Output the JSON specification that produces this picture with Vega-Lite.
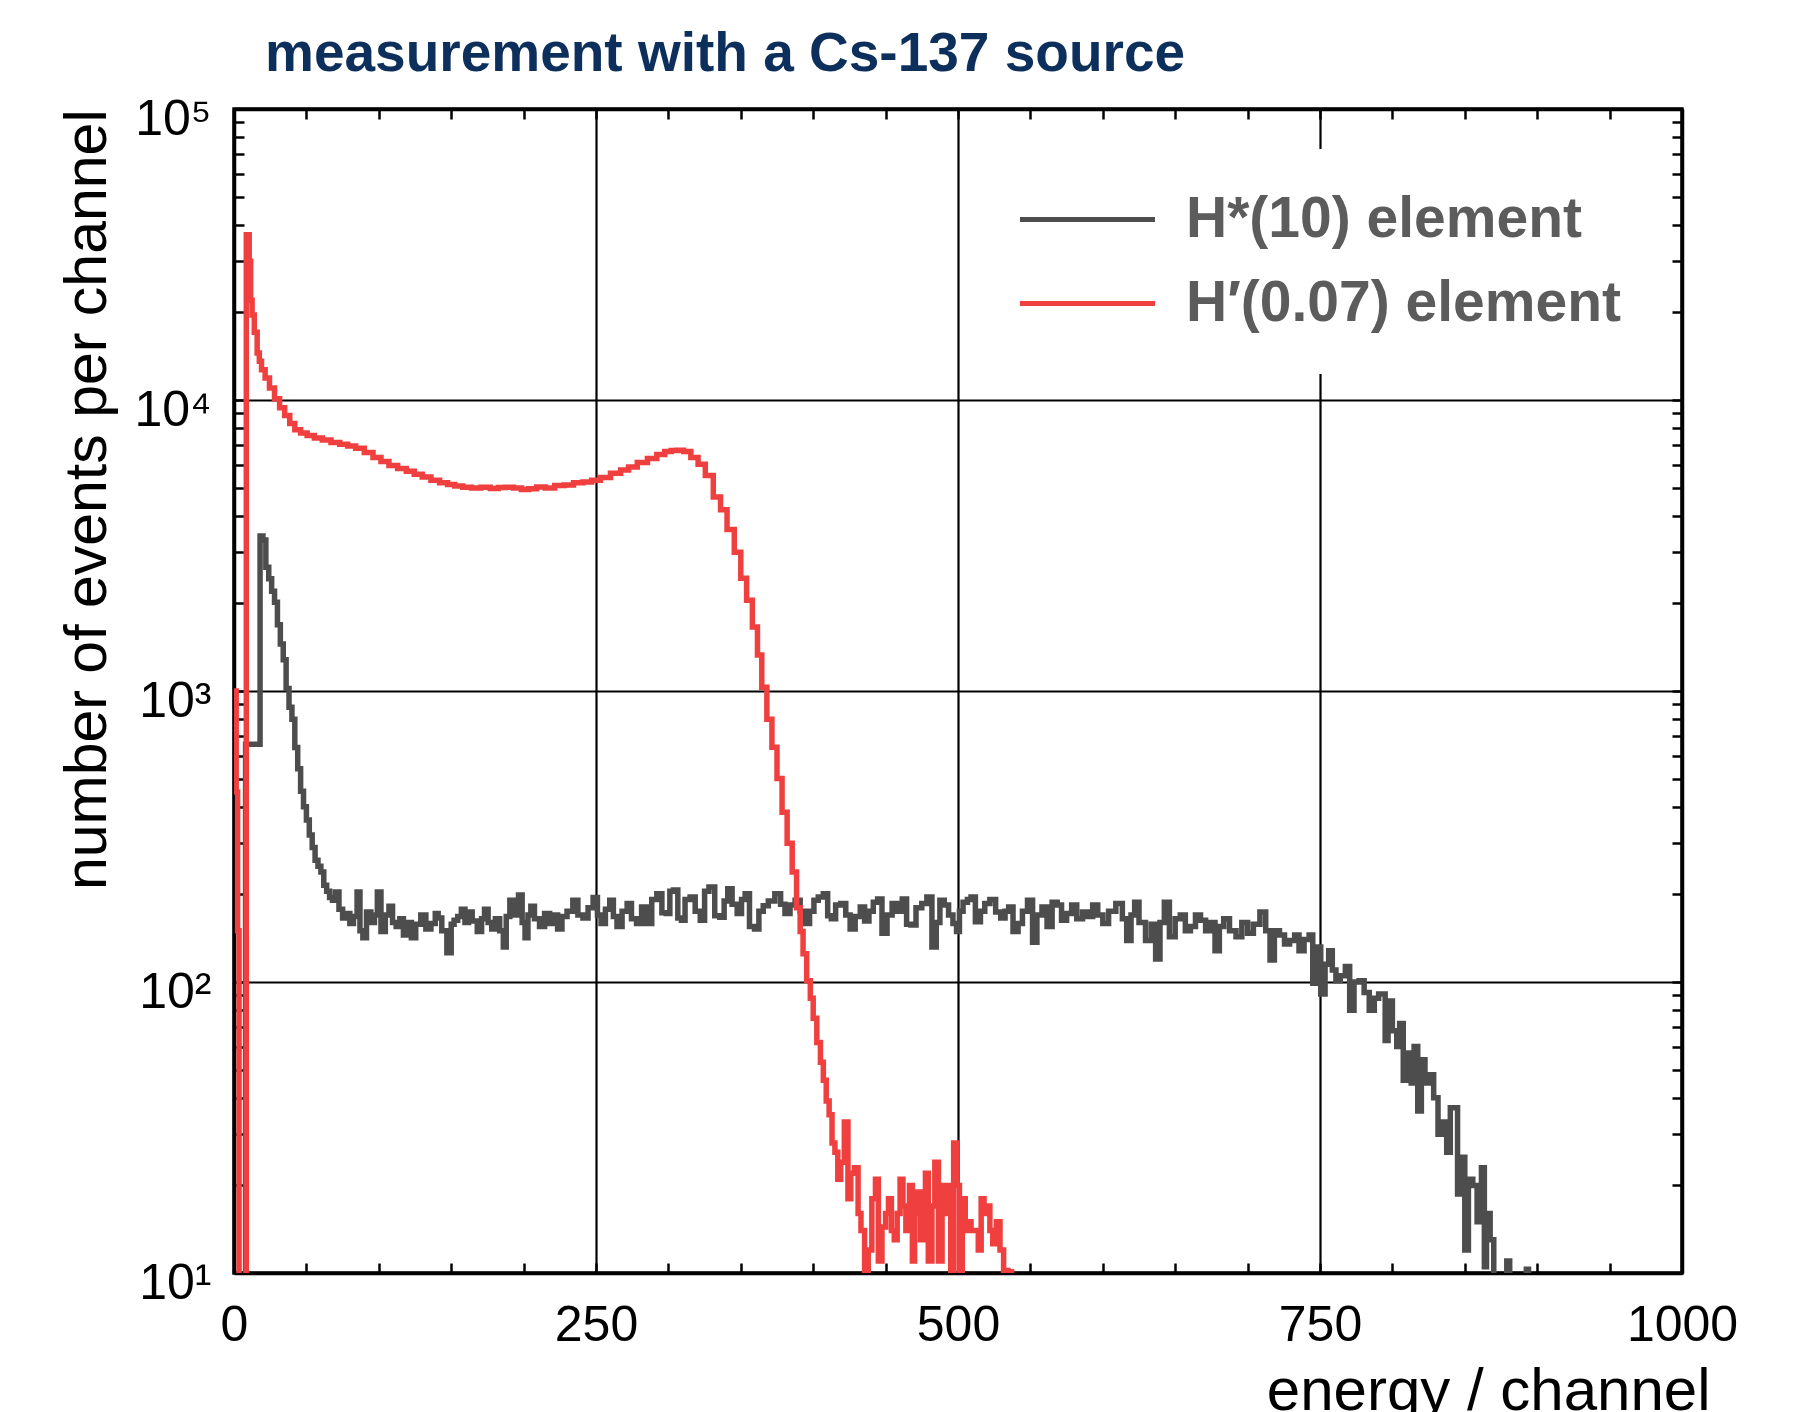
{
  "$schema": "https://vega.github.io/schema/vega-lite/v6.json",
  "width": 1448,
  "height": 1164,
  "autosize": {"type": "none"},
  "padding": {"left": 234, "top": 109, "right": 111, "bottom": 139},
  "background": "white",
  "config": {"font": "Liberation Sans", "view": {"stroke": "black", "strokeWidth": 3.5}},
  "title": {"text": "measurement with a Cs-137 source", "anchor": "start", "frame": "group", "dx": 31, "dy": 69, "offset": 37, "baseline": "alphabetic", "fontSize": 55, "font": "Liberation Sans", "fontWeight": "bold", "color": "#0d2f5c"},
  "datasets": {
    "gray": [
      {"c":0,"n":3},{"c":7,"n":3},{"c":9,"n":656},{"c":17,"n":656},{"c":19,"n":3410},{"c":21,"n":3300},{"c":23,"n":2660},{"c":25,"n":2430},{"c":27,"n":2200},{"c":29,"n":2020},{"c":31,"n":1690},{"c":33,"n":1450},{"c":35,"n":1280},{"c":37,"n":1020},{"c":39,"n":880},{"c":41,"n":800},{"c":43,"n":640},{"c":45,"n":540},{"c":47,"n":452},{"c":49,"n":400},{"c":51,"n":360},{"c":53,"n":320},{"c":55,"n":290},{"c":57,"n":262},{"c":59,"n":250},{"c":61,"n":239},{"c":63,"n":215},{"c":65,"n":205},{"c":67,"n":195},{"c":69,"n":191},{"c":71,"n":204},{"c":74,"n":178},{"c":76,"n":166},{"c":79,"n":172},{"c":81,"n":159},{"c":84,"n":168},{"c":86,"n":204},{"c":88,"n":150},{"c":90,"n":142},{"c":93,"n":174},{"c":96,"n":160},{"c":98,"n":170},{"c":100,"n":204},{"c":103,"n":149},{"c":106,"n":170},{"c":108,"n":182},{"c":111,"n":160},{"c":113,"n":155},{"c":116,"n":165},{"c":118,"n":145},{"c":121,"n":160},{"c":124,"n":142},{"c":127,"n":158},{"c":131,"n":170},{"c":134,"n":152},{"c":138,"n":159},{"c":140,"n":172},{"c":142,"n":166},{"c":145,"n":150},{"c":149,"n":126},{"c":151,"n":158},{"c":153,"n":163},{"c":156,"n":168},{"c":158,"n":178},{"c":161,"n":160},{"c":163,"n":174},{"c":166,"n":162},{"c":170,"n":149},{"c":172,"n":165},{"c":174,"n":178},{"c":177,"n":160},{"c":179,"n":152},{"c":182,"n":165},{"c":185,"n":150},{"c":187,"n":132},{"c":189,"n":168},{"c":192,"n":191},{"c":195,"n":170},{"c":198,"n":199},{"c":200,"n":160},{"c":202,"n":142},{"c":204,"n":170},{"c":206,"n":182},{"c":209,"n":165},{"c":213,"n":155},{"c":216,"n":172},{"c":220,"n":159},{"c":222,"n":170},{"c":225,"n":152},{"c":228,"n":168},{"c":232,"n":175},{"c":236,"n":191},{"c":239,"n":170},{"c":243,"n":166},{"c":246,"n":180},{"c":250,"n":195},{"c":252,"n":170},{"c":255,"n":159},{"c":258,"n":178},{"c":261,"n":191},{"c":263,"n":168},{"c":266,"n":155},{"c":270,"n":175},{"c":273,"n":186},{"c":276,"n":165},{"c":280,"n":159},{"c":283,"n":181},{"c":287,"n":159},{"c":290,"n":192},{"c":294,"n":201},{"c":297,"n":173},{"c":300,"n":172},{"c":302,"n":205},{"c":305,"n":207},{"c":308,"n":166},{"c":310,"n":163},{"c":313,"n":192},{"c":317,"n":196},{"c":320,"n":175},{"c":324,"n":163},{"c":326,"n":205},{"c":330,"n":212},{"c":334,"n":169},{"c":337,"n":167},{"c":340,"n":190},{"c":342,"n":209},{"c":346,"n":185},{"c":349,"n":172},{"c":352,"n":192},{"c":354,"n":201},{"c":358,"n":155},{"c":361,"n":152},{"c":364,"n":175},{"c":367,"n":183},{"c":371,"n":190},{"c":376,"n":201},{"c":379,"n":185},{"c":382,"n":172},{"c":386,"n":184},{"c":389,"n":191},{"c":393,"n":175},{"c":396,"n":159},{"c":399,"n":175},{"c":402,"n":191},{"c":405,"n":196},{"c":409,"n":201},{"c":411,"n":169},{"c":414,"n":165},{"c":417,"n":184},{"c":421,"n":186},{"c":424,"n":170},{"c":427,"n":152},{"c":431,"n":168},{"c":434,"n":181},{"c":437,"n":162},{"c":440,"n":175},{"c":443,"n":188},{"c":446,"n":193},{"c":449,"n":147},{"c":453,"n":170},{"c":456,"n":186},{"c":460,"n":175},{"c":463,"n":193},{"c":466,"n":158},{"c":469,"n":157},{"c":473,"n":180},{"c":477,"n":186},{"c":480,"n":196},{"c":484,"n":132},{"c":486,"n":160},{"c":489,"n":191},{"c":492,"n":184},{"c":495,"n":170},{"c":498,"n":159},{"c":500,"n":149},{"c":502,"n":175},{"c":505,"n":188},{"c":508,"n":192},{"c":510,"n":196},{"c":514,"n":161},{"c":517,"n":175},{"c":520,"n":186},{"c":524,"n":192},{"c":528,"n":174},{"c":531,"n":166},{"c":534,"n":175},{"c":536,"n":181},{"c":540,"n":149},{"c":543,"n":159},{"c":546,"n":175},{"c":550,"n":191},{"c":553,"n":137},{"c":556,"n":170},{"c":560,"n":181},{"c":563,"n":155},{"c":567,"n":188},{"c":570,"n":184},{"c":573,"n":163},{"c":577,"n":172},{"c":580,"n":184},{"c":584,"n":165},{"c":588,"n":174},{"c":591,"n":168},{"c":595,"n":184},{"c":598,"n":170},{"c":602,"n":159},{"c":606,"n":175},{"c":612,"n":186},{"c":615,"n":165},{"c":618,"n":139},{"c":621,"n":170},{"c":623,"n":188},{"c":627,"n":160},{"c":632,"n":139},{"c":635,"n":158},{"c":638,"n":120},{"c":641,"n":160},{"c":644,"n":188},{"c":648,"n":143},{"c":652,"n":165},{"c":655,"n":170},{"c":659,"n":150},{"c":662,"n":155},{"c":666,"n":170},{"c":669,"n":163},{"c":673,"n":150},{"c":676,"n":160},{"c":679,"n":128},{"c":682,"n":155},{"c":685,"n":165},{"c":690,"n":150},{"c":694,"n":143},{"c":698,"n":160},{"c":702,"n":147},{"c":706,"n":158},{"c":711,"n":174},{"c":714,"n":150},{"c":717,"n":119},{"c":720,"n":150},{"c":724,"n":145},{"c":727,"n":135},{"c":731,"n":139},{"c":734,"n":145},{"c":737,"n":128},{"c":741,"n":140},{"c":744,"n":145},{"c":746,"n":99},{"c":749,"n":132},{"c":752,"n":91},{"c":755,"n":115},{"c":757,"n":128},{"c":760,"n":110},{"c":762,"n":101},{"c":766,"n":105},{"c":769,"n":113},{"c":772,"n":80},{"c":775,"n":100},{"c":779,"n":101},{"c":782,"n":92},{"c":786,"n":80},{"c":789,"n":88},{"c":792,"n":91},{"c":794,"n":91},{"c":796,"n":63},{"c":798,"n":86},{"c":802,"n":68},{"c":804,"n":60},{"c":806,"n":72},{"c":809,"n":46},{"c":812,"n":57},{"c":814,"n":45},{"c":816,"n":60},{"c":819,"n":36},{"c":821,"n":54},{"c":824,"n":45},{"c":827,"n":48},{"c":830,"n":40},{"c":833,"n":30},{"c":836,"n":33},{"c":839,"n":26},{"c":841,"n":37},{"c":844,"n":37},{"c":846,"n":18.7},{"c":849,"n":25},{"c":851,"n":12},{"c":854,"n":21},{"c":857,"n":20},{"c":860,"n":15},{"c":863,"n":23},{"c":864,"n":10.5},{"c":866,"n":16},{"c":869,"n":13},{"c":871,"n":5},{"c":878,"n":5},{"c":880,"n":11},{"c":882,"n":5},{"c":892,"n":5},{"c":893,"n":10.3},{"c":895,"n":5},{"c":1000,"n":5}
    ],
    "red": [
      {"c":0,"n":1000},{"c":1,"n":1000},{"c":2,"n":450},{"c":3,"n":150},{"c":4,"n":3},{"c":8,"n":3},{"c":9,"n":37000},{"c":10,"n":37000},{"c":11,"n":30000},{"c":12,"n":22000},{"c":13,"n":19600},{"c":15,"n":17100},{"c":17,"n":14500},{"c":18,"n":13600},{"c":20,"n":12700},{"c":23,"n":11900},{"c":26,"n":11000},{"c":30,"n":10100},{"c":33,"n":9400},{"c":37,"n":8850},{"c":40,"n":8300},{"c":44,"n":7900},{"c":48,"n":7700},{"c":53,"n":7550},{"c":58,"n":7400},{"c":64,"n":7280},{"c":70,"n":7150},{"c":76,"n":7050},{"c":81,"n":6950},{"c":87,"n":6830},{"c":93,"n":6600},{"c":99,"n":6350},{"c":104,"n":6150},{"c":110,"n":5960},{"c":116,"n":5820},{"c":122,"n":5690},{"c":127,"n":5560},{"c":133,"n":5440},{"c":139,"n":5300},{"c":145,"n":5200},{"c":150,"n":5120},{"c":155,"n":5060},{"c":161,"n":5010},{"c":167,"n":4980},{"c":174,"n":5010},{"c":180,"n":4960},{"c":185,"n":5000},{"c":190,"n":5010},{"c":196,"n":4980},{"c":201,"n":4930},{"c":206,"n":4950},{"c":212,"n":5020},{"c":218,"n":4980},{"c":225,"n":5080},{"c":231,"n":5100},{"c":238,"n":5200},{"c":244,"n":5230},{"c":250,"n":5300},{"c":256,"n":5420},{"c":264,"n":5600},{"c":270,"n":5750},{"c":275,"n":5880},{"c":282,"n":6100},{"c":289,"n":6300},{"c":295,"n":6500},{"c":300,"n":6650},{"c":304,"n":6700},{"c":308,"n":6720},{"c":313,"n":6650},{"c":318,"n":6350},{"c":323,"n":6010},{"c":328,"n":5500},{"c":334,"n":4640},{"c":338,"n":4200},{"c":343,"n":3590},{"c":348,"n":3000},{"c":352,"n":2440},{"c":356,"n":2050},{"c":360,"n":1660},{"c":363,"n":1330},{"c":366,"n":1030},{"c":370,"n":800},{"c":373,"n":641},{"c":377,"n":500},{"c":380,"n":383},{"c":384,"n":300},{"c":387,"n":239},{"c":390,"n":180},{"c":392,"n":149},{"c":394,"n":125},{"c":397,"n":101},{"c":399,"n":88},{"c":401,"n":75},{"c":404,"n":62},{"c":406,"n":53},{"c":408,"n":46},{"c":410,"n":39},{"c":412,"n":35},{"c":414,"n":28},{"c":416,"n":26},{"c":418,"n":21},{"c":420,"n":24},{"c":423,"n":33},{"c":425,"n":18},{"c":427,"n":22},{"c":430,"n":23},{"c":432,"n":16},{"c":434,"n":14},{"c":437,"n":8},{"c":439,"n":12},{"c":442,"n":18},{"c":444,"n":21},{"c":446,"n":11},{"c":449,"n":14.4},{"c":451,"n":16},{"c":453,"n":18},{"c":455,"n":14},{"c":457,"n":13},{"c":459,"n":16},{"c":461,"n":21},{"c":463,"n":17},{"c":465,"n":14},{"c":468,"n":20},{"c":469,"n":11},{"c":471,"n":16},{"c":473,"n":19},{"c":475,"n":13},{"c":477,"n":17},{"c":478,"n":22},{"c":481,"n":11},{"c":483,"n":17},{"c":485,"n":24},{"c":488,"n":11},{"c":490,"n":20},{"c":492,"n":16},{"c":494,"n":20},{"c":496,"n":9},{"c":498,"n":28},{"c":500,"n":20},{"c":502,"n":8},{"c":504,"n":18},{"c":506,"n":14},{"c":508,"n":15},{"c":510,"n":14},{"c":513,"n":14},{"c":515,"n":12},{"c":517,"n":18},{"c":519,"n":16},{"c":521,"n":17},{"c":523,"n":14},{"c":525,"n":12.6},{"c":528,"n":15},{"c":530,"n":12},{"c":533,"n":10.2},{"c":536,"n":10.1},{"c":538,"n":5},{"c":1000,"n":5}
    ]
  },
  "layer": [
    {
      "data": {"name": "gray"},
      "mark": {"type": "line", "interpolate": "step", "strokeWidth": 5.5, "clip": true},
      "encoding": {
        "x": {"field": "c", "type": "quantitative", "scale": {"domain": [0, 1000], "nice": false, "zero": false},
          "axis": {"orient": "bottom", "values": [0,50,100,150,200,250,300,350,400,450,500,550,600,650,700,750,800,850,900,950,1000],
            "labelExpr": "datum.value % 250 == 0 ? '' + datum.value : ''",
            "labelFontSize": 50, "labelFont": "Liberation Sans", "labelColor": "black", "labelPadding": 37, "labelFlush": false, "labelOverlap": false, "labelBound": false,
            "tickSize": -10, "tickWidth": 2.5, "tickColor": "black", "domainColor": "black", "domainWidth": 3.5,
            "grid": true, "gridColor": "black", "gridWidth": 2.2,
            "gridOpacity": {"condition": {"test": "datum.value == 250 || datum.value == 500 || datum.value == 750", "value": 1}, "value": 0},
            "title": "energy / channel", "titleFont": "Liberation Sans", "titleFontSize": 60, "titleFontWeight": "normal", "titleColor": "black",
            "titleX": 1476, "titleY": 136, "titleAlign": "right", "titleBaseline": "alphabetic"}},
        "y": {"field": "n", "type": "quantitative", "scale": {"type": "log", "domain": [10, 100000], "nice": false},
          "axis": {"orient": "left", "values": [10,20,30,40,50,60,70,80,90,100,200,300,400,500,600,700,800,900,1000,2000,3000,4000,5000,6000,7000,8000,9000,10000,20000,30000,40000,50000,60000,70000,80000,90000,100000],
            "labelExpr": "datum.value == 10 ? '10¹' : datum.value == 100 ? '10²' : datum.value == 1000 ? '10³' : datum.value == 10000 ? '10⁴' : datum.value == 100000 ? '10⁵' : ''",
            "labelFontSize": 50, "labelFont": "Liberation Sans", "labelColor": "black", "labelPadding": 33, "labelOffset": 10, "labelFlush": false, "labelOverlap": false, "labelBound": false,
            "tickSize": -10, "tickWidth": 2.5, "tickColor": "black", "domainColor": "black", "domainWidth": 3.5,
            "grid": true, "gridColor": "black", "gridWidth": 2.2,
            "gridOpacity": {"condition": {"test": "datum.value == 100 || datum.value == 1000 || datum.value == 10000", "value": 1}, "value": 0},
            "title": "number of events per channel", "titleFont": "Liberation Sans", "titleFontSize": 59, "titleFontWeight": "normal", "titleColor": "black",
            "titleX": -117, "titleY": 0, "titleAngle": -90, "titleAlign": "right", "titleBaseline": "bottom"}},
        "color": {"datum": "H*(10) element", "type": "nominal",
          "scale": {"domain": ["H*(10) element", "H′(0.07) element"], "range": ["#4d4d4d", "#f03f3f"]},
          "legend": {"orient": "none", "legendX": 783, "legendY": 40, "title": null, "symbolType": "M-4,0H4", "symbolSize": 1139, "symbolStrokeWidth": 5,
            "labelFontSize": 57, "labelFont": "Liberation Sans", "labelFontWeight": "bold", "labelColor": "#5c5c5c", "labelOffset": 70, "labelLimit": 0,
            "rowPadding": 26, "padding": 42, "fillColor": "white"}}
      }
    },
    {
      "data": {"name": "red"},
      "mark": {"type": "line", "interpolate": "step", "strokeWidth": 5.5, "clip": true},
      "encoding": {
        "x": {"field": "c", "type": "quantitative",
          "axis": {"orient": "top", "values": [0,50,100,150,200,250,300,350,400,450,500,550,600,650,700,750,800,850,900,950,1000],
            "labels": false, "title": null, "grid": false, "tickSize": -10, "tickWidth": 2.5, "tickColor": "black", "domainColor": "black", "domainWidth": 3.5}},
        "y": {"field": "n", "type": "quantitative",
          "axis": {"orient": "right", "values": [10,20,30,40,50,60,70,80,90,100,200,300,400,500,600,700,800,900,1000,2000,3000,4000,5000,6000,7000,8000,9000,10000,20000,30000,40000,50000,60000,70000,80000,90000,100000],
            "labels": false, "title": null, "grid": false, "tickSize": -10, "tickWidth": 2.5, "tickColor": "black", "domainColor": "black", "domainWidth": 3.5}},
        "color": {"datum": "H′(0.07) element", "type": "nominal"}
      }
    }
  ],
  "resolve": {"axis": {"x": "independent", "y": "independent"}}
}
